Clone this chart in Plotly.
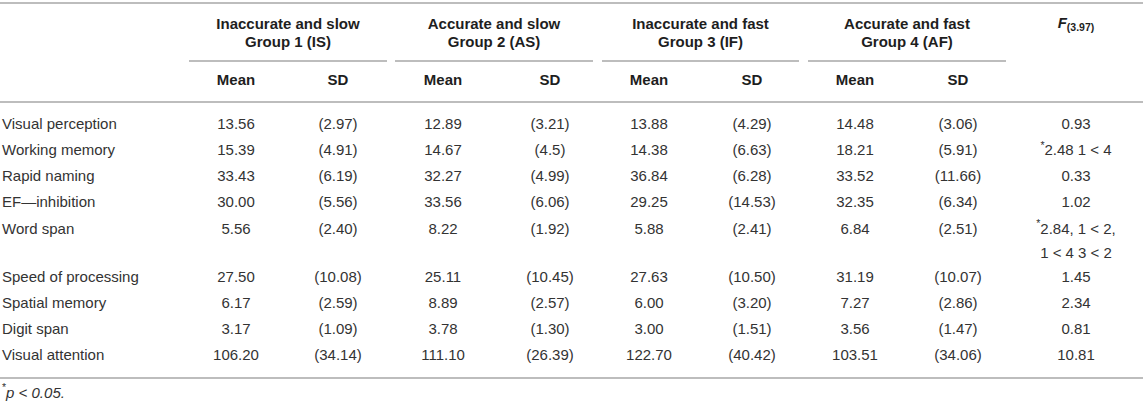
import plotly.graph_objects as go

# ---------------- data ----------------
measures = ["Visual perception", "Working memory", "Rapid naming", "EF\u2014inhibition",
            "Word span", "Speed of processing", "Spatial memory", "Digit span",
            "Visual attention"]

group_titles = [("Inaccurate and slow", "Group 1 (IS)"),
                ("Accurate and slow", "Group 2 (AS)"),
                ("Inaccurate and fast", "Group 3 (IF)"),
                ("Accurate and fast", "Group 4 (AF)")]

g1_mean = ["13.56", "15.39", "33.43", "30.00", "5.56", "27.50", "6.17", "3.17", "106.20"]
g1_sd = ["(2.97)", "(4.91)", "(6.19)", "(5.56)", "(2.40)", "(10.08)", "(2.59)", "(1.09)", "(34.14)"]
g2_mean = ["12.89", "14.67", "32.27", "33.56", "8.22", "25.11", "8.89", "3.78", "111.10"]
g2_sd = ["(3.21)", "(4.5)", "(4.99)", "(6.06)", "(1.92)", "(10.45)", "(2.57)", "(1.30)", "(26.39)"]
g3_mean = ["13.88", "14.38", "36.84", "29.25", "5.88", "27.63", "6.00", "3.00", "122.70"]
g3_sd = ["(4.29)", "(6.63)", "(6.28)", "(14.53)", "(2.41)", "(10.50)", "(3.20)", "(1.51)", "(40.42)"]
g4_mean = ["14.48", "18.21", "33.52", "32.35", "6.84", "31.19", "7.27", "3.56", "103.51"]
g4_sd = ["(3.06)", "(5.91)", "(11.66)", "(6.34)", "(2.51)", "(10.07)", "(2.86)", "(1.47)", "(34.06)"]
f_values = ["0.93", "<sup>*</sup>2.48 1 &lt; 4", "0.33", "1.02",
            "<sup>*</sup>2.84, 1 &lt; 2,<br>1 &lt; 4 3 &lt; 2",
            "1.45", "2.34", "0.81", "10.81"]

sub_headers = ["Mean", "SD"]
f_header = "<i>F</i><sub>(3.97)</sub>"
footnote = "<sup>*</sup><i>p &lt; 0.05.</i>"

# ---------------- layout constants ----------------
W, H = 1143, 405
FONT = "Liberation Sans, Arial, Helvetica, sans-serif"
FS = 15
BODY = "#333333"
HEAD = "#1e1e1e"
RULE = "#bdbdbd"

label_x = 2
mean_x = [236, 443, 649, 855]
sd_x = [338, 550, 752, 958]
f_x = 1076
group_spans = [(189, 387), (395, 593), (602, 799), (808, 1006)]

first_row_y = 125
row_pitch = 26.2
extra_line = 22.0
inner_line = 24.0

# row y positions (computed from line counts)
row_y = []
y = first_row_y
for v in f_values:
    row_y.append(y)
    nlines = v.count("<br>") + 1
    y += row_pitch + (nlines - 1) * extra_line

fig = go.Figure()


def text_trace(xs, ys, texts, pos="middle center", color=BODY, size=FS):
    fig.add_trace(go.Scatter(
        x=xs, y=ys, text=texts, mode="text", textposition=pos,
        textfont=dict(family=FONT, size=size, color=color),
        hoverinfo="skip", showlegend=False, cliponaxis=False))


# row labels
text_trace([label_x] * len(measures), row_y, measures, pos="middle right")

# group data columns
for gx_m, gx_s, means, sds in zip(mean_x, sd_x,
                                  [g1_mean, g2_mean, g3_mean, g4_mean],
                                  [g1_sd, g2_sd, g3_sd, g4_sd]):
    text_trace([gx_m] * len(means), row_y, means)
    text_trace([gx_s] * len(sds), row_y, sds)

# F column (split multi-line cells)
fx, fy, ft = [], [], []
for yy, v in zip(row_y, f_values):
    for k, line in enumerate(v.split("<br>")):
        fx.append(f_x)
        fy.append(yy + k * inner_line)
        ft.append(line)
text_trace(fx, fy, ft)

# headers
hx, hy, ht = [], [], []
for (a, b), (t1, t2) in zip(group_spans, group_titles):
    c = (a + b) / 2
    hx += [c, c]
    hy += [25, 43]
    ht += [f"<b>{t1}</b>", f"<b>{t2}</b>"]
for gx_m, gx_s in zip(mean_x, sd_x):
    hx += [gx_m, gx_s]
    hy += [81, 81]
    ht += [f"<b>{sub_headers[0]}</b>", f"<b>{sub_headers[1]}</b>"]
hx.append(f_x)
hy.append(24)
ht.append(f"<b>{f_header}</b>")
text_trace(hx, hy, ht, color=HEAD)

# footnote
text_trace([label_x], [394], [footnote], pos="middle right")

# rules
shapes = []
for y0 in (3, 102, 378):
    shapes.append(dict(type="line", xref="x", yref="y", x0=0, x1=W, y0=y0, y1=y0,
                       line=dict(color=RULE, width=2)))
for a, b in group_spans:
    shapes.append(dict(type="line", xref="x", yref="y", x0=a, x1=b, y0=61, y1=61,
                       line=dict(color=RULE, width=2)))

fig.update_layout(
    width=W, height=H,
    margin=dict(l=0, r=0, t=0, b=0),
    paper_bgcolor="white", plot_bgcolor="white",
    xaxis=dict(range=[0, W], visible=False, fixedrange=True),
    yaxis=dict(range=[H, 0], visible=False, fixedrange=True),
    shapes=shapes,
)

fig.write_html("out.html", config={"displayModeBar": False},
               post_script="document.body.style.margin='0';document.body.style.overflow='hidden';")
